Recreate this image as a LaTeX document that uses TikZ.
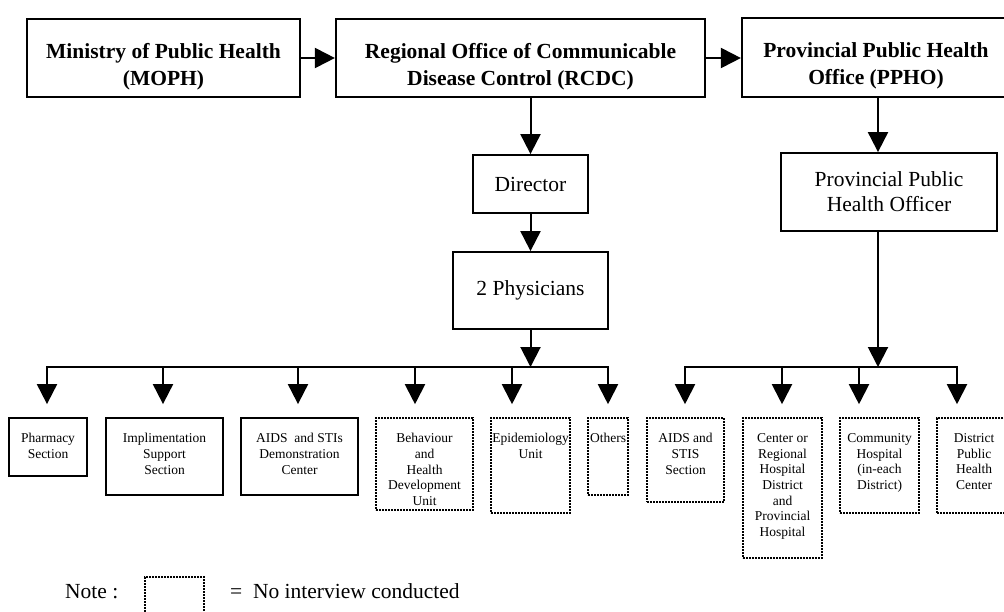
\documentclass[tikz,border=0pt]{standalone}
\usepackage{fontspec}
\setmainfont{Liberation Serif}
\usetikzlibrary{arrows.meta}

\newcommand{\toppad}{\rule{0pt}{32pt}}

\tikzset{
  topbox/.style={draw, line width=2.2pt, align=center, inner sep=0pt,
    font=\fontsize{21.5}{27}\selectfont\bfseries},
  midbox/.style={draw, line width=1.8pt, align=center, inner sep=0pt,
    font=\fontsize{21.5}{25}\selectfont},
  unitbox/.style={draw, line width=1.8pt, inner sep=0pt},
  nobox/.style={draw, line width=1.6pt, dash pattern=on 1.6pt off 1.4pt, inner sep=0pt},
  unittext/.style={align=center, inner sep=0pt, anchor=north, yshift=-16pt,
    font=\fontsize{13.5}{15.7}\selectfont},
  arr/.style={line width=2pt, -{Triangle[width=20pt,length=20pt]}},
  bar/.style={line width=2pt, line cap=rect}
}

\begin{document}
\begin{tikzpicture}[x=1pt, y=-1pt]
\useasboundingbox (0,0) rectangle (1004,611);
\clip (0,0) rectangle (1004,611);

% top row
\node[topbox, minimum width=273pt, minimum height=78pt] (moph) at (163.5,58) {\toppad Ministry of Public Health\\(MOPH)};
\node[topbox, minimum width=369pt, minimum height=78pt] (rcdc) at (520.5,58) {\toppad Regional Office of Communicable\\Disease Control (RCDC)};
\node[topbox, minimum width=268pt, minimum height=79pt] (ppho) at (876,57.5) {\toppad Provincial Public Health\\Office (PPHO)};
\draw[arr] (moph.east) -- (rcdc.west);
\draw[arr] (rcdc.east) -- (rcdc.east -| ppho.west);

% RCDC side
\node[midbox, minimum width=115pt, minimum height=58pt] (dir) at (530.5,184) {Director};
\node[midbox, minimum width=155pt, minimum height=77pt] (phys) at (530.5,290.5) {2 Physicians};
\draw[arr] (rcdc.south -| dir) -- (dir.north);
\draw[arr] (dir) -- (phys);

% PPHO side
\coordinate (rj) at (878,367);
\node[midbox, minimum width=216pt, minimum height=78pt] (off) at (889,192) {Provincial Public\\Health Officer};
\draw[arr] (ppho.south -| rj) -- (off.north -| rj);
\draw[arr] (off.south -| rj) -- (rj);

% branch bars
\coordinate (l1) at (47,367);
\coordinate (l2) at (163,367);
\coordinate (l3) at (298,367);
\coordinate (l4) at (415,367);
\coordinate (l5) at (512,367);
\coordinate (l6) at (608,367);
\coordinate (r1) at (685,367);
\coordinate (r2) at (782,367);
\coordinate (r3) at (859,367);
\coordinate (r4) at (957,367);
\draw[bar] (l1) -- (l6);
\draw[bar] (r1) -- (r4);
\draw[arr] (phys.south) -- (phys.south |- l1);

% units under RCDC
\node[unitbox, minimum width=78pt, minimum height=58pt] (pharm) at (48,447) {};
\node[unittext] (pharmt) at (pharm.north) {Pharmacy\\Section};
\node[unitbox, minimum width=117pt, minimum height=77pt] (impl) at (164.5,456.5) {};
\node[unittext] (implt) at (impl.north) {Implimentation\\Support\\Section};
\node[unitbox, minimum width=117pt, minimum height=77pt] (demo) at (299.5,456.5) {};
\node[unittext] (demot) at (demo.north) {AIDS~ and STIs\\Demonstration\\Center};
\node[nobox, minimum width=97pt, minimum height=92pt] (behav) at (424.5,464) {};
\node[unittext] (behavt) at (behav.north) {Behaviour\\and\\Health\\Development\\Unit};
\node[nobox, minimum width=79pt, minimum height=95pt] (epid) at (530.5,465.5) {};
\node[unittext] (epidt) at (epid.north) {Epidemiology\\Unit};
\node[nobox, minimum width=40pt, minimum height=77pt] (oth) at (608,456.5) {};
\node[unittext] (otht) at (oth.north) {Others};

% units under PPHO
\node[nobox, minimum width=77pt, minimum height=84pt] (aids) at (685.5,460) {};
\node[unittext] (aidst) at (aids.north) {AIDS and\\STIS\\Section};
\node[nobox, minimum width=79pt, minimum height=140pt] (hosp) at (782.5,488) {};
\node[unittext] (hospt) at (hosp.north) {Center or\\Regional\\Hospital\\District\\and\\Provincial\\Hospital};
\node[nobox, minimum width=79pt, minimum height=95pt] (comm) at (879.5,465.5) {};
\node[unittext] (commt) at (comm.north) {Community\\Hospital\\(in-each\\District)};
\node[nobox, minimum width=74pt, minimum height=95pt] (dpc) at (974,465.5) {};
\node[unittext] (dpct) at (dpc.north) {District\\Public\\Health\\Center};

\foreach \j/\u in {l1/pharm, l2/impl, l3/demo, l4/behav, l5/epid, l6/oth, r1/aids, r2/hosp, r3/comm, r4/dpc}
  \draw[arr, shorten >=13pt] (\j) -- (\j |- \u.north);

% legend
\node[anchor=base west, inner sep=0pt, font=\fontsize{21.5}{25}\selectfont] (note) at (65,598) {Note :};
\node[nobox, minimum width=59pt, minimum height=50pt] (key) at (174.5,602) {};
\node[anchor=base west, inner sep=0pt, font=\fontsize{21.5}{25}\selectfont] (keyt) at (230,598) {=~~No interview conducted};
\end{tikzpicture}
\end{document}
